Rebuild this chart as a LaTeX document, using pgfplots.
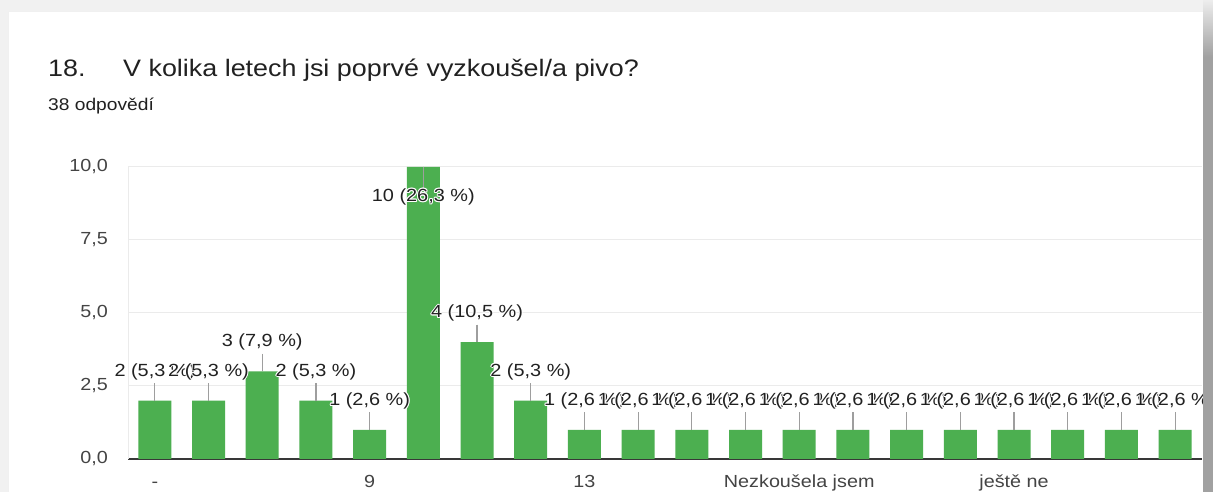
\documentclass[border=0pt]{standalone}
\usepackage{pgfplots}
\pgfplotsset{compat=1.18}
\usepackage{pgfplotstable}
\usepackage{fontspec}
\setmainfont[FakeStretch=1.13]{Liberation Sans}
\definecolor{barg}{HTML}{4CAF50}
\definecolor{txt}{HTML}{212121}
\definecolor{tickc}{HTML}{444444}
\definecolor{gridc}{HTML}{EBEBEB}
\definecolor{bgc}{HTML}{F1F1F1}
\definecolor{leadc}{HTML}{9E9E9E}

\pgfplotstableread[col sep=semicolon]{
x;y;ep;em;dy;label
0;2;0.6;0;29;2 (5,3 \%)
1;2;0.6;0;29;2 (5,3 \%)
2;3;0.6;0;29;3 (7,9 \%)
3;2;0.6;0;29;2 (5,3 \%)
4;1;0.6;0;29;1 (2,6 \%)
5;10;0;0.8;-30;10 (26,3 \%)
6;4;0.6;0;29;4 (10,5 \%)
7;2;0.6;0;29;2 (5,3 \%)
8;1;0.6;0;29;1 (2,6 \%)
9;1;0.6;0;29;1 (2,6 \%)
10;1;0.6;0;29;1 (2,6 \%)
11;1;0.6;0;29;1 (2,6 \%)
12;1;0.6;0;29;1 (2,6 \%)
13;1;0.6;0;29;1 (2,6 \%)
14;1;0.6;0;29;1 (2,6 \%)
15;1;0.6;0;29;1 (2,6 \%)
16;1;0.6;0;29;1 (2,6 \%)
17;1;0.6;0;29;1 (2,6 \%)
18;1;0.6;0;29;1 (2,6 \%)
19;1;0.6;0;29;1 (2,6 \%)
}\data

\newcommand{\halo}[1]{%
  \leavevmode
  \rlap{\color{white}\hspace*{1pt}#1}%
  \rlap{\color{white}\hspace*{-1pt}#1}%
  \rlap{\color{white}\raisebox{1pt}{#1}}%
  \rlap{\color{white}\raisebox{-1pt}{#1}}%
  \rlap{\color{white}\hspace*{0.7pt}\raisebox{0.7pt}{#1}}%
  \rlap{\color{white}\hspace*{-0.7pt}\raisebox{0.7pt}{#1}}%
  \rlap{\color{white}\hspace*{0.7pt}\raisebox{-0.7pt}{#1}}%
  \rlap{\color{white}\hspace*{-0.7pt}\raisebox{-0.7pt}{#1}}%
  #1}

\begin{document}
\begin{tikzpicture}
\path[use as bounding box] (0,0) rectangle (1213pt,492pt);
\fill[bgc] (0,0) rectangle (1213pt,492pt);
\fill[white] (8pt,0) rectangle (1203pt,480pt);
\draw[black!6, line width=1pt] (8pt,0) -- (8pt,480pt) -- (1203pt,480pt);

\node[anchor=base west, inner sep=0pt, text=txt, font=\fontsize{23.8}{26}\selectfont] at (48pt,415pt) {18.};
\node[anchor=base west, inner sep=0pt, text=txt, font=\fontsize{23.8}{26}\selectfont] at (123pt,415pt) {V kolika letech jsi poprvé vyzkoušel/a pivo?};
\node[anchor=base west, inner sep=0pt, text=txt, font=\fontsize{17}{20}\selectfont] at (48pt,381pt) {38 odpovědí};

\begin{axis}[
  at={(128pt,33pt)}, anchor=south west,
  scale only axis, width=1074pt, height=292pt,
  xmin=-0.5, xmax=19.5, ymin=0, ymax=10,
  enlargelimits=false, clip=false,
  axis x line*=bottom, axis y line*=left,
  x axis line style={draw=black!78, line width=1.6pt, -},
  y axis line style={draw=gridc, line width=1pt, -},
  xtick={0,4,8,12,16},
  xticklabels={-,9,13,Nezkoušela jsem,ještě ne},
  ytick={0,2.5,5,7.5,10},
  yticklabels={{0,0},{2,5},{5,0},{7,5},{10,0}},
  major tick length=0pt,
  ymajorgrids, grid style={draw=gridc, line width=1pt},
  xticklabel style={anchor=base, inner sep=0pt, yshift=-29pt, text=tickc, font=\fontsize{17.5}{20}\selectfont},
  yticklabel style={anchor=east, inner sep=0pt, xshift=-20pt, text=tickc, font=\fontsize{17.5}{20}\selectfont},
]
\addplot[ybar, bar width=33pt, fill=barg, draw=none,
  point meta=explicit symbolic,
  visualization depends on={\thisrow{dy} \as \dy},
  nodes near coords={\halo{\pgfplotspointmeta}},
  every node near coord/.append style={anchor=center, yshift=\dy pt, inner sep=0pt, text=txt, font=\fontsize{17.6}{20}\selectfont},
  error bars/.cd, y dir=both, y explicit,
  error bar style={draw=leadc, line width=1.2pt},
  error mark=none,
] table[x=x, y=y, y error plus=ep, y error minus=em, meta=label] {\data};
\end{axis}

\fill[black!37] (1203pt,0) rectangle (1213pt,435pt);
\shade[top color=black!7, bottom color=black!37] (1203pt,435pt) rectangle (1213pt,492pt);
\end{tikzpicture}
\end{document}
